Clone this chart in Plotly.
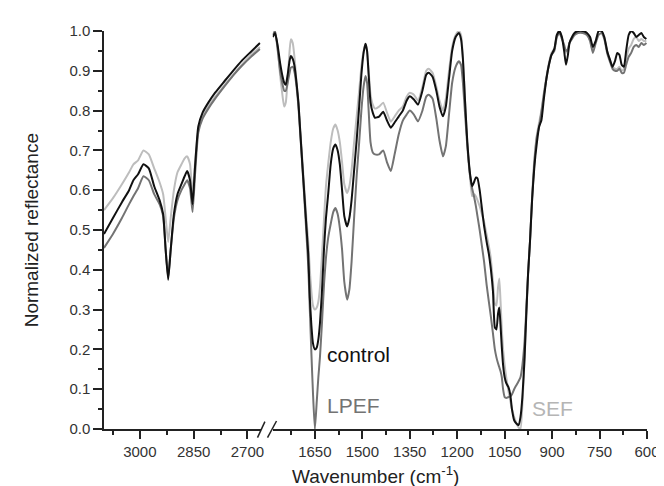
import plotly.graph_objects as go

# ---------------- data ----------------
wn_left = [3100, 3075, 3050, 3030, 3018, 3005, 2990, 2975, 2960, 2945, 2935, 2928, 2921,
           2914, 2905, 2895, 2884, 2875, 2868, 2860, 2853, 2846, 2837, 2825, 2809, 2790,
           2763, 2740, 2716, 2690, 2665]
control_left = [0.49, 0.53, 0.57, 0.60, 0.625, 0.64, 0.665, 0.655, 0.61, 0.575, 0.54, 0.45, 0.375,
                0.45, 0.54, 0.59, 0.615, 0.635, 0.648, 0.625, 0.565, 0.66, 0.76, 0.795, 0.82, 0.845,
                0.875, 0.90, 0.925, 0.948, 0.97]
sef_left = [0.55, 0.58, 0.615, 0.645, 0.665, 0.675, 0.70, 0.69, 0.655, 0.62, 0.59, 0.53, 0.47,
            0.53, 0.60, 0.645, 0.665, 0.68, 0.685, 0.665, 0.585, 0.67, 0.75, 0.785, 0.81, 0.835,
            0.865, 0.89, 0.915, 0.94, 0.96]
lpef_left = [0.455, 0.49, 0.53, 0.565, 0.585, 0.605, 0.635, 0.625, 0.59, 0.565, 0.535, 0.45, 0.38,
             0.45, 0.53, 0.575, 0.60, 0.615, 0.625, 0.605, 0.545, 0.64, 0.745, 0.78, 0.805, 0.83,
             0.862, 0.888, 0.912, 0.935, 0.955]

wn_right = [1783, 1776, 1768, 1760, 1752, 1747, 1742, 1736, 1730, 1726, 1720, 1714, 1708, 1702,
            1697, 1690, 1683, 1676, 1671, 1666, 1661, 1656, 1650, 1644, 1639, 1634, 1628, 1621,
            1615, 1608, 1600, 1592, 1585, 1578, 1571, 1564, 1557, 1548, 1541, 1534, 1526, 1518,
            1510, 1503, 1496, 1490, 1485, 1480, 1474, 1467, 1460, 1447, 1434, 1422, 1410, 1398,
            1385, 1372, 1360, 1350, 1337, 1324, 1310, 1298, 1290, 1278, 1266, 1256, 1245, 1236,
            1226, 1216, 1205, 1195, 1188, 1182, 1175, 1168, 1160, 1153, 1147, 1141, 1136, 1129,
            1122, 1115, 1107, 1100, 1094, 1087, 1081, 1076, 1071, 1067, 1063, 1059, 1055, 1050,
            1045, 1038, 1032, 1027, 1020, 1013, 1006, 1000, 994, 987, 981, 976, 970, 963, 956,
            948, 941, 934, 926, 918, 910, 902, 893, 885, 877, 869, 862, 856, 850, 845, 837, 829,
            818, 803, 790, 780, 771, 762, 753, 744, 735, 726, 718, 709, 701, 694, 687, 680, 673,
            666, 658, 650, 642, 634, 626, 618, 610, 602]
control_right = [0.985, 0.995, 0.965, 0.92, 0.885, 0.87, 0.865, 0.89, 0.925, 0.937, 0.93, 0.91, 0.87, 0.82,
                 0.757, 0.67, 0.585, 0.50, 0.44, 0.33, 0.26, 0.215, 0.20, 0.205, 0.225, 0.265, 0.34, 0.455,
                 0.53, 0.59, 0.665, 0.705, 0.715, 0.70, 0.664, 0.60, 0.535, 0.509, 0.53, 0.575, 0.65, 0.725,
                 0.81, 0.89, 0.945, 0.968, 0.95, 0.89, 0.82, 0.795, 0.782, 0.785, 0.797, 0.775, 0.757, 0.77,
                 0.785, 0.80, 0.825, 0.836, 0.828, 0.815, 0.85, 0.89, 0.895, 0.885, 0.85, 0.81, 0.786, 0.81,
                 0.88, 0.95, 0.985, 0.995, 0.98, 0.93, 0.82, 0.72, 0.645, 0.61, 0.62, 0.632, 0.63, 0.60,
                 0.555, 0.51, 0.47, 0.44, 0.404, 0.346, 0.255, 0.25, 0.29, 0.305, 0.26, 0.205, 0.161, 0.13,
                 0.115, 0.105, 0.085, 0.05, 0.022, 0.014, 0.01, 0.03, 0.08, 0.18, 0.30, 0.39, 0.47, 0.58, 0.66,
                 0.72, 0.76, 0.775, 0.83, 0.88, 0.915, 0.94, 0.955, 0.99, 1.0, 0.985, 0.95, 0.915, 0.94, 0.97, 0.985, 0.995,
                 1.0, 1.0, 0.995, 0.985, 0.96, 0.975, 1.0, 1.0, 0.985, 0.95, 0.93, 0.91, 0.925, 0.945, 0.94, 0.915, 0.91,
                 0.95, 0.99, 1.0, 0.995, 0.985, 0.99, 0.995, 0.985, 0.98]
lpef_right = [0.99, 1.0, 0.955, 0.90, 0.865, 0.85, 0.85, 0.87, 0.895, 0.908, 0.91, 0.895, 0.86, 0.81,
              0.75, 0.665, 0.575, 0.48, 0.41, 0.30, 0.19, 0.09, 0.0, 0.07, 0.13, 0.18, 0.26, 0.365,
              0.43, 0.48, 0.515, 0.545, 0.555, 0.54, 0.505, 0.45, 0.37, 0.325, 0.35, 0.42, 0.53, 0.635,
              0.72, 0.80, 0.86, 0.887, 0.87, 0.80, 0.72, 0.695, 0.69, 0.69, 0.70, 0.67, 0.648, 0.69,
              0.74, 0.775, 0.79, 0.80, 0.79, 0.773, 0.80, 0.835, 0.84, 0.83, 0.78, 0.725, 0.685, 0.71,
              0.79, 0.87, 0.91, 0.924, 0.915, 0.87, 0.79, 0.71, 0.64, 0.605, 0.585, 0.56, 0.535, 0.50,
              0.46, 0.42, 0.362, 0.32, 0.285, 0.24, 0.20, 0.18, 0.165, 0.155, 0.145, 0.13, 0.10, 0.08,
              0.078, 0.08, 0.082, 0.087, 0.10, 0.11, 0.12, 0.13, 0.16, 0.22, 0.31, 0.39, 0.47, 0.58, 0.67,
              0.735, 0.76, 0.795, 0.84, 0.88, 0.915, 0.94, 0.95, 0.985, 0.995, 0.98, 0.965, 0.95, 0.955, 0.97, 0.98, 0.99,
              0.995, 0.995, 0.99, 0.975, 0.945, 0.97, 0.99, 0.995, 0.98, 0.945, 0.925, 0.905, 0.90, 0.90, 0.905, 0.895, 0.895,
              0.915, 0.935, 0.945, 0.96, 0.965, 0.96, 0.97, 0.965, 0.97]
sef_right = [0.99, 1.0, 0.96, 0.89, 0.835, 0.81, 0.82, 0.88, 0.95, 0.979, 0.97, 0.93, 0.87, 0.82,
             0.76, 0.68, 0.60, 0.52, 0.47, 0.40, 0.345, 0.31, 0.30, 0.305, 0.32, 0.355, 0.43, 0.53,
             0.61, 0.665, 0.72, 0.755, 0.765, 0.75, 0.72, 0.67, 0.615, 0.593, 0.61, 0.65, 0.72, 0.785,
             0.85, 0.91, 0.95, 0.968, 0.95, 0.90, 0.84, 0.815, 0.805, 0.81, 0.82, 0.795, 0.772, 0.785,
             0.80, 0.81, 0.835, 0.845, 0.84, 0.825, 0.86, 0.90, 0.905, 0.895, 0.86, 0.825, 0.80, 0.83,
             0.90, 0.96, 0.99, 1.0, 0.99, 0.935, 0.82, 0.72, 0.64, 0.585, 0.59, 0.585, 0.575, 0.56,
             0.54, 0.52, 0.488, 0.46, 0.43, 0.37, 0.315, 0.31, 0.355, 0.378, 0.32, 0.25, 0.20, 0.16,
             0.13, 0.095, 0.07, 0.05, 0.03, 0.015, 0.004, 0.0, 0.06, 0.178, 0.30, 0.387, 0.47, 0.59, 0.68,
             0.74, 0.77, 0.80, 0.845, 0.885, 0.92, 0.945, 0.955, 0.99, 1.0, 0.985, 0.96, 0.945, 0.955, 0.97, 0.985, 0.995,
             1.0, 1.0, 0.995, 0.975, 0.95, 0.975, 1.0, 1.0, 0.985, 0.95, 0.93, 0.91, 0.905, 0.905, 0.91, 0.90, 0.905,
             0.93, 0.955, 0.965, 0.98, 0.985, 0.975, 0.98, 0.975, 0.975]

series_names = ["SEF", "LPEF", "control"]
series_colors = ["#bdbdbd", "#737373", "#111111"]
left_major_ticks = [3000, 2850, 2700]
right_major_ticks = [1650, 1500, 1350, 1200, 1050, 900, 750, 600]

# ---------------- layout geometry (pixels) ----------------
W, H = 664, 486
PL, PR, PT, PB = 95.7, 639.0, 23.3, 420.7     # plot area edges
LEFT_END, RIGHT_START = 252.5, 264.5          # break gap
pw, ph = PR - PL, PB - PT

def px_x(x):
    return (x - PL) / pw

def px_y(y):
    return (PB - y) / ph

FONT = "Arial, Liberation Sans, Arimo, sans-serif"
AX = "#222222"
TXT = "#333333"

fig = go.Figure()
left_sets = {"SEF": sef_left, "LPEF": lpef_left, "control": control_left}
right_sets = {"SEF": sef_right, "LPEF": lpef_right, "control": control_right}
for name, col in zip(series_names, series_colors):
    fig.add_trace(go.Scatter(x=wn_left, y=left_sets[name], xaxis="x", yaxis="y", mode="lines",
                             line=dict(color=col, width=2, shape="spline", smoothing=0.5),
                             showlegend=False, name=name))
    fig.add_trace(go.Scatter(x=wn_right, y=right_sets[name], xaxis="x2", yaxis="y", mode="lines",
                             line=dict(color=col, width=2, shape="spline", smoothing=0.5),
                             showlegend=False, name=name))

common_x = dict(showline=True, linecolor=AX, linewidth=1.5, showgrid=False, zeroline=False,
                ticks="outside", ticklen=8, tickwidth=1.5, tickcolor=AX,
                tickfont=dict(family=FONT, size=15, color=TXT),
                minor=dict(ticks="outside", ticklen=4.5, tickwidth=1.5, tickcolor=AX, dtick=75))

fig.update_layout(
    width=W, height=H,
    margin=dict(l=PL, r=W - PR, t=PT, b=H - PB, pad=0),
    paper_bgcolor="white", plot_bgcolor="white",
    xaxis=dict(domain=[0, px_x(LEFT_END)], range=[3100, 3100 - (LEFT_END - PL) / 0.3587],
               tickmode="array", tickvals=left_major_ticks, ticktext=[str(v) for v in left_major_ticks],
               anchor="y", **{k: v for k, v in common_x.items() if k != "minor"},
               minor=dict(ticks="outside", ticklen=4.5, tickwidth=1.5, tickcolor=AX,
                          tickmode="array", tickvals=[3075, 2925, 2775])),
    xaxis2=dict(domain=[px_x(RIGHT_START), 1], range=[1650 + (306.7 - RIGHT_START) / 0.3165, 600],
                tickmode="array", tickvals=right_major_ticks, ticktext=[str(v) for v in right_major_ticks],
                anchor="y", **{k: v for k, v in common_x.items() if k != "minor"},
                minor=dict(ticks="outside", ticklen=4.5, tickwidth=1.5, tickcolor=AX,
                           tickmode="array", tickvals=[1725, 1575, 1425, 1275, 1125, 975, 825, 675])),
    yaxis=dict(range=[0, 1.0], showline=True, linecolor=AX, linewidth=1.5, showgrid=False,
               zeroline=False, ticks="outside", ticklen=9, tickwidth=1.5, tickcolor=AX,
               tickmode="array", tickvals=[i / 10 for i in range(11)],
               ticktext=[f"{i / 10:.1f}" for i in range(11)],
               tickfont=dict(family=FONT, size=15, color=TXT),
               minor=dict(ticks="outside", ticklen=4.5, tickwidth=1.5, tickcolor=AX,
                          tickmode="array", tickvals=[i / 10 + 0.05 for i in range(10)])),
)

# break marks "//"
for (x0, y0, x1, y1) in [(249.3, 429.3, 256.7, 413.3), (259.3, 429.3, 268.3, 412.7)]:
    fig.add_shape(type="line", xref="paper", yref="paper",
                  x0=px_x(x0), y0=px_y(y0), x1=px_x(x1), y1=px_y(y1),
                  line=dict(color=AX, width=1.5))

# axis titles
fig.add_annotation(xref="paper", yref="paper", x=px_x((PL + PR) / 2), y=px_y(466.7),
                   text="Wavenumber (cm<sup>-1</sup>)", showarrow=False,
                   font=dict(family=FONT, size=19, color="#222222"), xanchor="center", yanchor="middle")
fig.add_annotation(xref="paper", yref="paper", x=px_x(23), y=px_y((PT + PB) / 2),
                   text="Normalized reflectance", showarrow=False, textangle=-90,
                   font=dict(family=FONT, size=19, color="#222222"), xanchor="center", yanchor="middle")

# series labels
labels = [("control", 1618, 0.186, "#111111"), ("LPEF", 1618, 0.06, "#737373"), ("SEF", 971, 0.052, "#b5b5b5")]
for txt, xv, yv, col in labels:
    fig.add_annotation(xref="x2", yref="y", x=xv, y=yv, text=txt, showarrow=False,
                       xanchor="left", yanchor="middle",
                       font=dict(family=FONT, size=21, color=col))

fig.write_html("out.html")
